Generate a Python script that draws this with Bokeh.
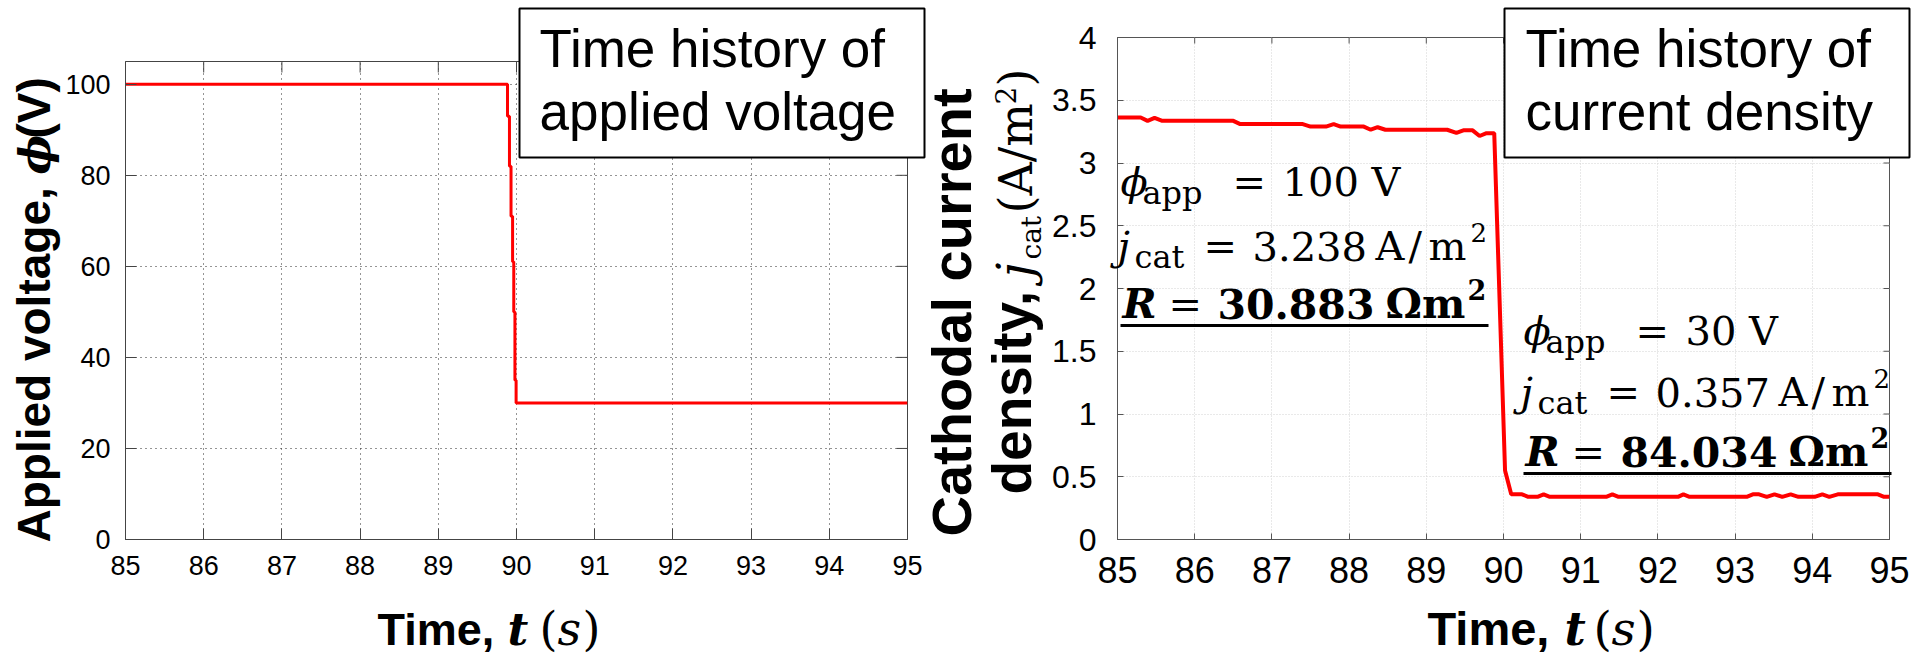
import math
from bokeh.plotting import figure
from bokeh.layouts import row
from bokeh.models import FixedTicker, Label
from bokeh.embed import file_html
from bokeh.resources import INLINE

# ---- data -------------------------------------------------------------
# applied voltage history (stepped ramp-down around t = 90 s)
volt_time = [85.0, 89.885, 89.91, 89.93, 89.95, 89.965, 89.98, 89.995, 95.0]
volt_value = [100, 93, 82, 71, 61, 50, 35, 30, 30]

# cathodal current density history
cur_time = [85.0, 85.3, 85.39, 85.48, 85.58, 86.5, 86.59, 87.4, 87.5, 87.7,
            87.8, 87.89, 88.19, 88.28, 88.37, 88.47, 89.27, 89.39, 89.48, 89.6,
            89.69, 89.78, 89.88, 90.02, 90.1, 90.24, 90.32, 90.44, 90.52, 90.6,
            91.33, 91.41, 91.49, 92.26, 92.33, 92.41, 93.15, 93.23, 93.31, 93.41,
            93.51, 93.61, 93.72, 93.82, 94.03, 94.13, 94.22, 94.33, 94.85, 94.93,
            95.0]
cur_density = [3.363, 3.363, 3.336, 3.36, 3.336, 3.336, 3.31, 3.31, 3.29, 3.29,
               3.31, 3.29, 3.29, 3.265, 3.285, 3.265, 3.265, 3.24, 3.26, 3.26,
               3.215, 3.238, 3.238, 0.55, 0.36, 0.36, 0.34, 0.34, 0.36, 0.34,
               0.34, 0.36, 0.34, 0.34, 0.36, 0.34, 0.34, 0.36, 0.36, 0.34,
               0.36, 0.34, 0.36, 0.34, 0.34, 0.36, 0.34, 0.36, 0.36, 0.34,
               0.34]

time_ticks = [85, 86, 87, 88, 89, 90, 91, 92, 93, 94, 95]
volt_ticks = [0, 20, 40, 60, 80, 100]
cur_ticks = [0, 0.5, 1, 1.5, 2, 2.5, 3, 3.5, 4]
cur_tick_labels = ["0", "0.5", "1", "1.5", "2", "2.5", "3", "3.5", "4"]

# operating points before / after the voltage change
phi_app = [100, 30]
j_cat = [3.238, 0.357]
resistance = [v / j for v, j in zip(phi_app, j_cat)]

# ---- page geometry (pixels) -----------------------------------------
H = 658
W1, W2 = 960, 957
L1, R1, T1, B1 = 125, 907, 61, 539          # left panel frame
L2, R2, T2, B2 = 1117, 1889, 37, 539        # right panel frame (page coords)
XR = (85, 95)
YR1 = (0, 105)
YR2 = (0, 4)

SANS = "Liberation Sans"
SERIF = "DejaVu Serif"


def no_frame_align(p):
    if "frame_align" in p.properties():
        p.frame_align = False


def style_panel(p, yticks, yr, frame_h, frame_w, tick_in, axis_color,
                xlab_size, ylab_size, xstand, ystand, grid_color, grid_dash,
                y_overrides=None):
    no_frame_align(p)
    p.background_fill_color = "white"
    p.border_fill_color = "white"
    p.outline_line_color = axis_color
    p.outline_line_width = 1
    p.xaxis.ticker = FixedTicker(ticks=time_ticks)
    p.yaxis.ticker = FixedTicker(ticks=yticks)
    p.xgrid.ticker = FixedTicker(ticks=time_ticks)
    p.ygrid.ticker = FixedTicker(ticks=yticks)
    p.grid.grid_line_color = grid_color
    p.grid.grid_line_dash = grid_dash
    p.grid.grid_line_width = 1
    for ax, size, stand in ((p.xaxis[0], xlab_size, xstand),
                            (p.yaxis[0], ylab_size, ystand)):
        ax.major_label_text_font = SANS
        ax.major_label_text_font_size = f"{size}px"
        ax.major_label_text_color = "black"
        ax.major_label_standoff = stand
        ax.axis_line_color = axis_color
        ax.major_tick_line_color = axis_color
        ax.major_tick_in = tick_in
        ax.major_tick_out = 0
        ax.minor_tick_line_color = None
    if y_overrides:
        p.yaxis.major_label_overrides = y_overrides
    # inward ticks on the top and right edges of the box
    dy = tick_in * (yr[1] - yr[0]) / frame_h
    dx = tick_in * (XR[1] - XR[0]) / frame_w
    p.segment(x0=time_ticks, y0=[yr[1]] * len(time_ticks),
              x1=time_ticks, y1=[yr[1] - dy] * len(time_ticks),
              line_color=axis_color, line_width=1)
    p.segment(x0=[XR[1]] * len(yticks), y0=yticks,
              x1=[XR[1] - dx] * len(yticks), y1=yticks,
              line_color=axis_color, line_width=1)


# ---- left panel: applied voltage -----------------------------------
p1 = figure(width=W1, height=H, x_range=XR, y_range=YR1, title=None,
            output_backend="svg", toolbar_location=None,
            min_border_left=L1, min_border_right=W1 - R1,
            min_border_top=T1, min_border_bottom=H - B1)
style_panel(p1, volt_ticks, YR1, B1 - T1, R1 - L1, 11, "#444444",
            27, 27, 16, 15, "#2b2b2b", "1 4")
p1.step(volt_time, volt_value, mode="after", line_color="#ff0000",
        line_width=3)

# ---- right panel: cathodal current density ---------------------------
p2 = figure(width=W2, height=H, x_range=XR, y_range=YR2, title=None,
            output_backend="svg", toolbar_location=None,
            min_border_left=L2 - W1, min_border_right=W1 + W2 - R2,
            min_border_top=T2, min_border_bottom=H - B2)
style_panel(p2, cur_ticks, YR2, B2 - T2, R2 - L2, 6, "#555555",
            36, 32, 17, 21, "#d2d2d2", "1 2",
            y_overrides={t: s for t, s in zip(cur_ticks, cur_tick_labels)})
p2.line(cur_time, cur_density, line_color="#ff0000", line_width=4)

# ---- transparent page-wide layer for titles, boxes and annotations -----
ov = figure(width=W1 + W2, height=H, x_range=(0, W1 + W2), y_range=(H, 0),
            x_axis_type=None, y_axis_type=None, title=None,
            output_backend="svg", toolbar_location=None,
            min_border_left=0, min_border_right=0,
            min_border_top=0, min_border_bottom=0,
            background_fill_color=None, border_fill_color=None,
            outline_line_color=None,
            styles={"position": "absolute", "left": "0px", "top": "0px"})
no_frame_align(ov)

ROT = math.pi / 2
BASE_SHIFT = 0.41   # anchor-to-baseline distance of a label, in em


def txt(px, py, text, size, font=SANS, style="normal", align="left",
        angle=0.0):
    """Place a label so that its baseline passes through (px, py)."""
    if angle == 0.0:
        x, y = px, py - BASE_SHIFT * size
    else:
        x, y = px - BASE_SHIFT * size, py
    ov.add_layout(Label(x=x, y=y, text=text, text_font=font,
                        text_font_size=f"{size}px", text_font_style=style,
                        text_align=align, text_baseline="alphabetic",
                        angle=angle, text_color="black"))


# axis titles, left panel
txt(52, 542, "Applied voltage,", 46, style="bold", angle=ROT)
txt(52, 174, "ϕ", 42, font=SERIF, style="bold italic", angle=ROT)
txt(52, 138, "(V)", 46, style="bold", angle=ROT)

txt(377, 647, "Time,", 45, style="bold")
txt(507, 647, "t", 45, font=SERIF, style="bold italic")
txt(539, 647, "(", 46, font=SERIF)
txt(557, 647, "s", 46, font=SERIF, style="italic")
txt(582, 647, ")", 46, font=SERIF)

# axis titles, right panel
txt(974, 312, "Cathodal current", 56, style="bold", align="center", angle=ROT)
txt(1034, 494, "density,", 55, style="bold", angle=ROT)
txt(1034, 277, "j", 48, font=SERIF, style="italic", angle=ROT)
txt(1042, 259, "cat", 28, font=SERIF, angle=ROT)
txt(1034, 213, "(A/m", 46, font=SERIF, angle=ROT)
txt(1016, 104, "2", 28, font=SERIF, angle=ROT)
txt(1034, 86, ")", 46, font=SERIF, angle=ROT)

txt(1427, 647, "Time,", 47, style="bold")
txt(1564, 647, "t", 46, font=SERIF, style="bold italic")
txt(1593, 647, "(", 47, font=SERIF)
txt(1611, 647, "s", 47, font=SERIF, style="italic")
txt(1636, 647, ")", 47, font=SERIF)

# boxed captions
ov.quad(left=[519, 1504], right=[924, 1909], top=[8, 8], bottom=[157, 157],
        fill_color="white", line_color="black", line_width=2)
for x0, lines in ((539, ["Time history of", "applied voltage"]),
                  (1525, ["Time history of", "current density"])):
    txt(x0, 70, lines[0], 53)
    txt(x0, 133, lines[1], 53)


def operating_point(x0, ya, yb, yc, phi, j, r):
    """Three-line note: applied voltage, current density, resistance."""
    txt(x0, ya, "ϕ", 40, font=SERIF, style="italic")
    txt(x0 + 22, ya + 8, "app", 32, font=SERIF)
    txt(x0 + 112, ya, "=", 40, font=SERIF)
    txt(x0 + 162, ya, f"{phi} V", 40, font=SERIF)

    txt(x0 - 3, yb, "j", 40, font=SERIF, style="italic")
    txt(x0 + 14, yb + 8, "cat", 32, font=SERIF)
    txt(x0 + 83, yb, "=", 40, font=SERIF)
    txt(x0 + 132, yb, f"{j:.3f}", 40, font=SERIF)
    txt(x0 + 255, yb, "A", 40, font=SERIF)
    txt(x0 + 288, yb, "/", 40, font=SERIF)
    txt(x0 + 308, yb, "m", 40, font=SERIF)
    txt(x0 + 350, yb - 19, "2", 26, font=SERIF)

    txt(x0 + 2, yc, "R", 41, font=SERIF, style="bold italic")
    txt(x0 + 48, yc, "=", 40, font=SERIF)
    txt(x0 + 97, yc, f"{r:.3f}", 41, font=SERIF, style="bold")
    txt(x0 + 265, yc, "Ωm", 41, font=SERIF, style="bold")
    txt(x0 + 347, yc - 20, "2", 27, font=SERIF, style="bold")
    ov.segment(x0=[x0], y0=[yc + 5], x1=[x0 + 368], y1=[yc + 5],
               line_color="black", line_width=3)


operating_point(1120, 198, 262, 320, phi_app[0], j_cat[0], resistance[0])
operating_point(1523, 347, 408, 468, phi_app[1], j_cat[1], resistance[1])

layout = row(p1, p2, ov, styles={"position": "relative"})
open("out.html", "w").write(file_html(layout, INLINE))
